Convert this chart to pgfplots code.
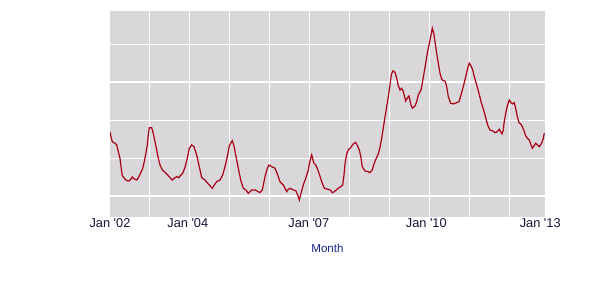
\documentclass[border=0pt]{standalone}
\usepackage{pgfplots}
\pgfplotsset{compat=1.18}
\usepackage{fontspec}
\setmainfont{Liberation Sans}
\definecolor{panel}{RGB}{217,215,218}
\definecolor{linered}{RGB}{170,0,20}
\definecolor{navy}{RGB}{25,35,140}
\definecolor{ticktext}{RGB}{20,20,60}
\begin{document}
\begin{tikzpicture}
\path[use as bounding box] (-82.5pt,-65.5pt) rectangle (369pt,162.5pt);
\begin{axis}[
  scale only axis, width=326.25pt, height=154.3pt,
  at={(0,0)}, anchor=south west,
  xmin=0.21, xmax=130.71, ymin=0, ymax=205.7,
  axis background/.style={fill=panel},
  axis line style={draw=none},
  major tick length=0pt,
  xtick={12,24,...,120}, xticklabels={},
  ytick={20.7,58.4,96.0,134.7,172.4}, yticklabels={},
  grid=major, major grid style={white, line width=1pt},
  extra x ticks={0.21,23.55,59.85,95.1,129.27},
  extra x tick labels={Jan \textquotesingle 02,Jan \textquotesingle 04,Jan \textquotesingle 07,Jan \textquotesingle 10,Jan \textquotesingle 13},
  extra x tick style={grid=none, major tick length=0pt},
  xticklabel style={inner sep=0pt, yshift=-1.5pt, font=\fontsize{9.6}{11}\selectfont, text=ticktext},
  xlabel={Month},
  xlabel style={at={(axis description cs:0.5,0)}, anchor=center, yshift=-23.5pt, font=\fontsize{8.7}{10}\selectfont, text=navy},
]
\addplot[linered, line width=0.9pt, mark=none] coordinates {
(0.21,85.0) (0.51,80.0) (0.9,75.0) (1.71,73.4) (2.22,71.7) (2.7,65.0) (3.21,58.4) (3.51,50.0) (3.9,41.0) (4.5,38.4)
(5.22,36.0) (5.91,35.7) (6.51,37.7) (6.9,39.7) (7.5,37.7) (8.22,36.7) (8.7,39.0) (9.51,44.4) (10.02,48.4) (10.5,55.0)
(10.92,62.4) (11.4,71.7) (11.7,81.7) (12.0,89.0) (12.72,89.0) (13.2,83.4) (13.71,75.0) (14.22,66.7) (14.7,58.4) (15.21,51.7)
(15.9,46.7) (16.71,44.4) (17.52,41.7) (18.21,39.0) (18.9,36.7) (19.5,38.4) (20.22,40.0) (20.91,39.0) (21.21,40.7) (22.02,43.4)
(22.71,49.4) (23.4,58.4) (24.0,68.4) (24.72,71.7) (25.41,70.0) (26.22,61.7) (27.0,50.0) (27.72,39.0) (28.71,36.7) (29.7,32.7)
(30.9,28.4) (31.5,31.7) (32.22,35.0) (33.21,36.7) (34.02,41.7) (34.71,50.0) (35.4,60.0) (36.0,70.7) (36.42,73.4) (36.9,76.0)
(37.41,70.7) (38.01,60.0) (38.7,48.4) (39.42,36.7) (40.2,28.4) (41.01,26.7) (41.7,23.4) (42.21,25.0) (42.72,26.7) (43.71,26.7)
(44.7,25.0) (45.21,24.0) (45.9,26.7) (46.71,40.0) (47.4,48.4) (47.91,51.7) (48.72,50.0) (49.71,48.4) (50.52,41.7) (51.21,35.0)
(52.2,31.7) (53.22,25.0) (53.7,27.4) (54.21,28.4) (55.2,26.7) (55.92,26.0) (56.52,21.7) (57.0,16.7) (57.51,23.4) (58.2,31.7)
(58.92,38.4) (59.7,46.7) (60.21,56.0) (60.72,61.7) (61.32,54.0) (62.1,50.7) (62.91,43.4) (63.72,35.0) (64.5,28.4) (65.52,27.4)
(66.3,26.7) (66.9,24.0) (67.5,25.0) (68.61,28.2) (69.21,29.4) (70.02,31.7) (70.41,41.7) (70.71,52.7) (71.22,62.7) (71.7,66.7)
(72.42,69.2) (73.2,72.7) (73.92,74.4) (74.4,71.2) (75.0,66.7) (75.42,60.7) (75.9,49.7) (76.71,45.7) (77.52,45.0) (78.21,44.0)
(78.9,46.7) (79.41,52.7) (80.01,57.7) (80.7,62.7) (81.21,69.2) (81.72,78.7) (82.2,88.7) (82.71,99.7) (83.22,110.0) (83.7,120.0)
(84.21,131.7) (84.6,141.7) (85.02,145.7) (85.71,144.4) (86.22,138.4) (86.7,131.0) (87.21,126.7) (87.72,128.4) (88.2,125.0) (88.92,115.7)
(89.52,119.2) (89.91,120.7) (90.51,111.7) (90.9,108.4) (91.71,110.7) (92.22,115.0) (92.7,121.7) (93.51,126.7) (93.9,133.4) (94.41,143.4)
(94.92,153.4) (95.4,163.4) (95.91,171.7) (96.42,180.0) (96.9,188.4) (97.32,183.4) (97.71,175.0) (98.22,163.4) (98.7,153.4) (99.21,143.4)
(99.72,137.4) (100.2,136.0) (100.71,135.7) (101.22,130.0) (101.7,120.0) (102.42,113.4) (103.2,112.7) (104.22,114.0) (104.91,115.0) (105.51,121.7)
(106.2,130.0) (106.92,140.0) (107.52,148.4) (108.0,153.4) (108.51,150.7) (109.02,146.7) (109.5,140.0) (110.22,131.7) (110.91,123.4) (111.51,115.0)
(112.2,107.7) (112.71,101.7) (113.22,95.0) (113.7,90.0) (114.21,86.7) (115.02,85.7) (115.71,84.0) (116.4,85.0) (117.0,87.4) (117.42,85.0)
(117.81,82.7) (118.2,86.7) (118.41,93.4) (118.92,103.4) (119.4,110.7) (120.0,116.7) (120.51,114.0) (121.02,112.7) (121.5,114.0) (122.01,106.7)
(122.4,100.0) (122.91,94.0) (123.42,92.7) (123.9,90.0) (124.41,86.0) (124.92,80.7) (125.4,78.4) (126.0,76.7) (126.42,72.7) (126.9,68.4)
(127.41,70.7) (127.92,73.4) (128.4,71.7) (129.0,70.0) (129.72,73.4) (130.2,78.4) (130.5,83.4)
};
\end{axis}
\end{tikzpicture}
\end{document}
